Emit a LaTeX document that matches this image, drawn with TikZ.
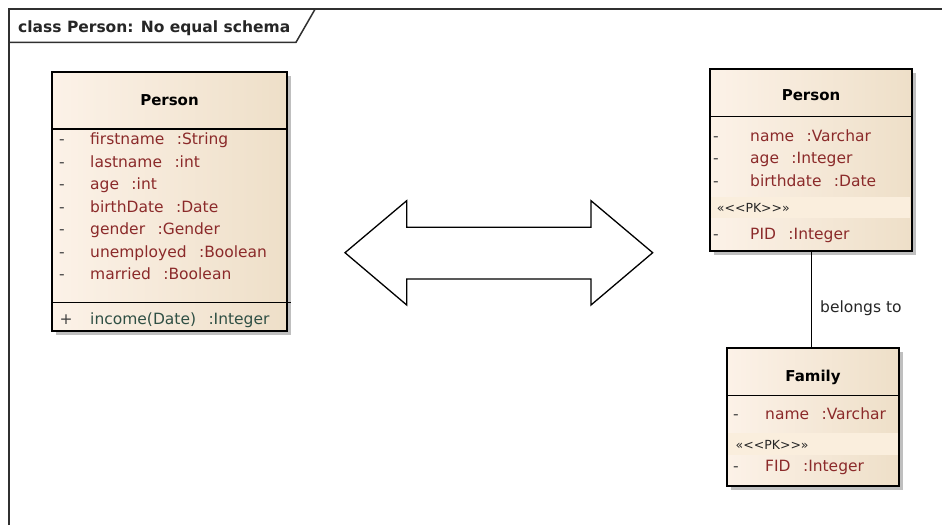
\documentclass[tikz,border=0pt]{standalone}
\usepackage{fontspec}
\setmainfont{DejaVu Sans}
\usetikzlibrary{shadows}
\definecolor{attr}{HTML}{8B2A2A}
\definecolor{oper}{HTML}{2F4F44}
\definecolor{fillA}{HTML}{FCF2E8}
\definecolor{fillB}{HTML}{EEDFC8}
\definecolor{pkband}{HTML}{FAEEDD}
\definecolor{framec}{HTML}{303030}
\newcommand\attrgap{\hspace{0.8em}}
\newcommand\pktag{«{<}{<}PK{>}{>}»}
\tikzset{
  classbox/.style={draw=black, line width=1.3pt, left color=fillA, right color=fillB,
    drop shadow={shadow xshift=4pt, shadow yshift=-4pt, fill=black!25, opacity=1}, inner sep=0pt},
  sepline/.style={line width=1.3pt, black},
  hdr/.style={font=\fontsize{15}{18}\selectfont\bfseries, anchor=base, inner sep=0pt},
  attrtxt/.style={font=\fontsize{15.5}{18}\selectfont, text=attr, anchor=base west, inner sep=0pt},
  opertxt/.style={font=\fontsize{15.5}{18}\selectfont, text=oper, anchor=base west, inner sep=0pt},
  vis/.style={font=\fontsize{15.5}{18}\selectfont, text=black!75, anchor=base, inner sep=0pt},
  stereo/.style={font=\fontsize{12.5}{16}\selectfont, text=black!85, anchor=base west, inner sep=0pt},
  lbl/.style={font=\fontsize{15.5}{18}\selectfont, text=black!85, anchor=base west, inner sep=0pt},
  titletxt/.style={font=\fontsize{15.5}{18}\selectfont\bfseries, text=black!85, anchor=base west, inner sep=0pt},
}
\begin{document}
\begin{tikzpicture}[x=1pt, y=-1pt]
\useasboundingbox (0,0) rectangle (942,525);
\fill[white] (0,0) rectangle (942,525);
% frame
\draw[framec, line width=1.8pt] (9.3,525) -- (9.3,9.3) -- (942,9.3);
\draw[framec, line width=1.5pt] (9.3,42.3) -- (296,42.3) -- (315,9.3);
\node[titletxt] (title) at (18,32) {class Person: No equal schema};

% left Person class
\node[classbox, minimum width=235pt, minimum height=259pt] (lp) at (169.5,201.5) {};
\draw[sepline] (lp.west |- 0,129) -- (lp.east |- 0,129);
\draw[sepline] (lp.west |- 0,302.3) -- ([xshift=3pt]lp.east |- 0,302.3);
\node[hdr] (lph) at (169.5,105.5) {Person};
\foreach \y/\t [count=\i] in {144.5/{firstname\attrgap:String}, 167/{lastname\attrgap:int}, 189.5/{age\attrgap:int}, 212/{birthDate\attrgap:Date}, 234.5/{gender\attrgap:Gender}, 257/{unemployed\attrgap:Boolean}, 279.5/{married\attrgap:Boolean}}{
  \node[vis] (lpd\i) at (62,\y) {-};
  \node[attrtxt] (lpa\i) at (90,\y) {\t};
}
\node[vis] (lpplus) at (66,324) {+};
\node[opertxt] (lpop) at (90,324) {income(Date)\attrgap:Integer};

% double arrow
\draw[line width=1.3pt, fill=white, line join=miter]
  (345,252.7) -- (406.7,200.7) -- (406.7,227.3) -- (591,227.3) -- (591,200.7)
  -- (652.7,252.7) -- (591,305) -- (591,279) -- (406.7,279) -- (406.7,305) -- cycle;

% right Person table
\node[classbox, minimum width=202pt, minimum height=182pt] (rp) at (811,160) {};
\fill[pkband] (711,197) rectangle (910,217.5);
\draw[sepline] (rp.west |- 0,116.7) -- (rp.east |- 0,116.7);
\node[hdr] (rph) at (811,100.5) {Person};
\foreach \y/\t [count=\i] in {141.5/{name\attrgap:Varchar}, 163.5/{age\attrgap:Integer}, 186/{birthdate\attrgap:Date}}{
  \node[vis] (rpd\i) at (716,\y) {-};
  \node[attrtxt] (rpa\i) at (750,\y) {\t};
}
\node[stereo] (rppk) at (716.7,212) {\pktag};
\node[vis] (rpd4) at (716,239) {-};
\node[attrtxt] (rpa4) at (750,239) {PID\attrgap:Integer};

% Family table
\node[classbox, minimum width=172pt, minimum height=138pt] (fam) at (813,417) {};
\fill[pkband] (728,433) rectangle (898,455);
\draw[sepline] (fam.west |- 0,395.7) -- (fam.east |- 0,395.7);
\node[hdr] (famh) at (813,381.5) {Family};
\node[vis] (famd1) at (736,419) {-};
\node[attrtxt] (fama1) at (765,419) {name\attrgap:Varchar};
\node[stereo] (fampk) at (735.5,449.5) {\pktag};
\node[vis] (famd2) at (736,471.5) {-};
\node[attrtxt] (fama2) at (765,471.5) {FID\attrgap:Integer};

% connector
\draw[line width=1pt, black] (rp.south) -- (rp.south |- fam.north);
\node[lbl] (belongs) at (820,312.5) {belongs to};
\end{tikzpicture}
\end{document}
